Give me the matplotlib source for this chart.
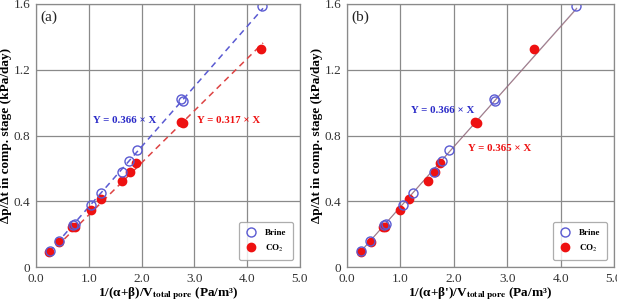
import matplotlib.pyplot as plt
import numpy as np

plt.rcParams['font.family'] = ['Liberation Serif', 'DejaVu Serif']
plt.rcParams['mathtext.fontset'] = 'stix'

# brine points (same x in both panels)
brine_x = [0.26, 0.44, 0.70, 0.73, 1.04, 1.23, 1.63, 1.77, 1.91, 2.75, 2.78, 4.28]
brine_y = [0.097, 0.16, 0.255, 0.262, 0.377, 0.448, 0.58, 0.647, 0.712, 1.02, 1.01, 1.59]

# CO2 points, panel (a) with alpha+beta, panel (b) with alpha+beta'
co2_y = [0.09, 0.154, 0.245, 0.245, 0.347, 0.412, 0.523, 0.58, 0.63, 0.884, 0.874, 1.326]
co2_x_a = [0.25, 0.44, 0.675, 0.73, 1.04, 1.23, 1.63, 1.78, 1.89, 2.75, 2.78, 4.27]
co2_x_b = [0.27, 0.45, 0.68, 0.72, 1.00, 1.17, 1.52, 1.65, 1.745, 2.40, 2.43, 3.51]

slope_brine = 0.366
slope_co2_a = 0.317
slope_co2_b = 0.365

blue = '#5a5ad2'
red = '#ee1111'

fig = plt.figure(figsize=(6.17, 3.01), dpi=100)
ax1 = fig.add_axes([36 / 617, 34 / 301, 264 / 617, 263 / 301])
ax2 = fig.add_axes([347 / 617, 34 / 301, 267 / 617, 263 / 301])


def setup(ax, panel, xlabel, ylab_x):
    ax.set_xlim(0, 5)
    ax.set_ylim(0, 1.6)
    ax.set_xticks(np.arange(0, 5.1, 1.0))
    ax.set_xticklabels(['%.1f' % v for v in np.arange(0, 5.1, 1.0)])
    ax.set_yticks([0, 0.4, 0.8, 1.2, 1.6])
    ax.set_yticklabels(['0', '0.4', '0.8', '1.2', '1.6'])
    ax.tick_params(labelsize=9.5, length=0, pad=4, colors='#333333')
    ax.grid(True, color='#8a8a8a', lw=0.9)
    ax.set_axisbelow(True)
    for s in ax.spines.values():
        s.set_color('#8a8a8a')
        s.set_linewidth(0.9)
    ax.text(0.08, 1.5, panel, fontsize=11, color='#222222')
    ax.set_xlabel(xlabel, fontsize=9.5, fontweight='bold')
    ax.xaxis.set_label_coords(0.5, -0.07)
    ax.set_ylabel('Δp/Δt in comp. stage (kPa/day)', fontsize=9.5, fontweight='bold')
    ax.yaxis.set_label_coords(ylab_x, 0.5)


# panel (a)
xa = np.array([0.25, 4.3])
ax1.plot(xa, slope_brine * xa, ls=(0, (4, 3)), color=blue, lw=1.1)
ax1.plot(xa, slope_co2_a * xa, ls=(0, (4, 3)), color='#dd4444', lw=1.1)
ax1.plot(co2_x_a, co2_y, 'o', color=red, ms=6, mec=red, label='CO$_2$')
ax1.plot(brine_x, brine_y, 'o', mfc='none', mec=blue, mew=1.0, ms=6.5, label='Brine')
ax1.text(1.08, 0.89, 'Y = 0.366 × X', color='#2a2ac8', fontsize=7.8, fontweight='bold', va='center')
ax1.text(3.05, 0.89, 'Y = 0.317 × X', color=red, fontsize=7.8, fontweight='bold', va='center')
setup(ax1, '(a)', '1/(α+β)/V$_{\\mathbf{total\\ pore}}$ (Pa/m³)', -0.09)

# panel (b)
xb = np.array([0.25, 4.3])
ax2.plot(xb, slope_brine * xb, color='#7a6a8a', lw=0.8, alpha=0.8)
ax2.plot(xb, slope_co2_b * xb, color='#b07070', lw=0.6, alpha=0.6)
ax2.plot(co2_x_b, co2_y, 'o', color=red, ms=6, mec=red, label='CO$_2$')
ax2.plot(brine_x, brine_y, 'o', mfc='none', mec=blue, mew=1.0, ms=6.5, label='Brine')
ax2.text(1.2, 0.95, 'Y = 0.366 × X', color='#2a2ac8', fontsize=7.8, fontweight='bold', va='center')
ax2.text(2.27, 0.72, 'Y = 0.365 × X', color=red, fontsize=7.8, fontweight='bold', va='center')
setup(ax2, '(b)', "1/(α+β')/V$_{\\mathbf{total\\ pore}}$ (Pa/m³)", -0.09)

for ax in (ax1, ax2):
    h, l = ax.get_legend_handles_labels()
    leg = ax.legend(h[::-1], l[::-1], loc='lower right', prop={'weight': 'bold', 'size': 6.5},
                    frameon=True, fancybox=True, edgecolor='#999999', borderpad=0.7,
                    labelspacing=0.6, handlelength=1.2, handletextpad=1.0,
                    markerscale=1.0, bbox_to_anchor=(0.99, 0.01))
    leg.get_frame().set_linewidth(0.9)

fig.savefig('out.png', dpi=100)
